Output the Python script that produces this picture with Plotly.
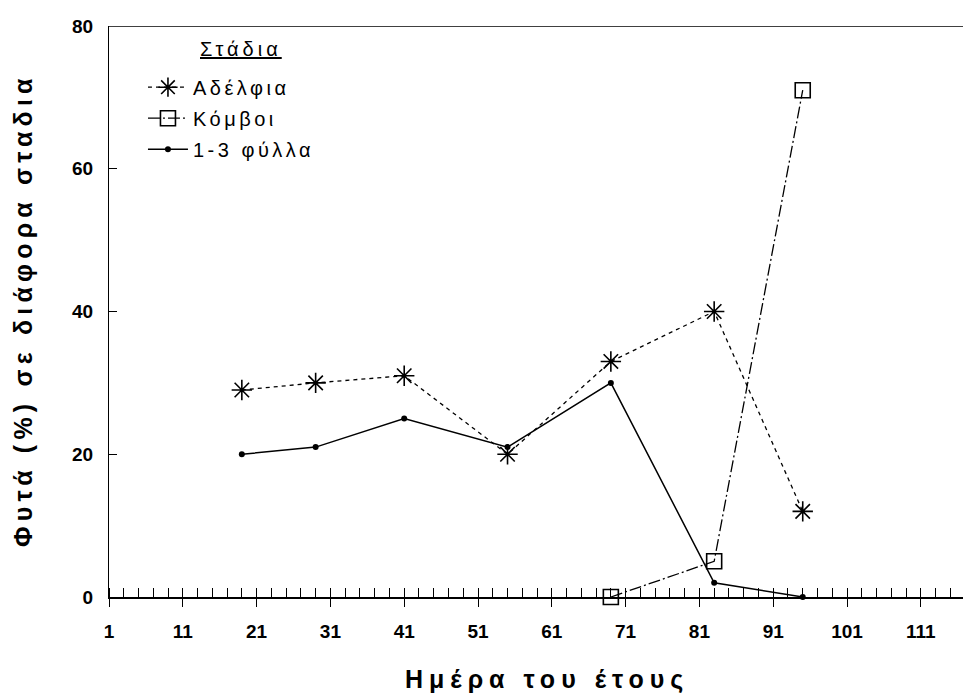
import plotly.graph_objects as go

# Data
days_adelfia = [19, 29, 41, 55, 69, 83, 95]
adelfia = [29, 30, 31, 20, 33, 40, 12]

days_komvoi = [69, 83, 95]
komvoi = [0, 5, 71]

days_fylla = [19, 29, 41, 55, 69, 83, 95]
fylla = [20, 21, 25, 21, 30, 2, 0]

names = ["Αδέλφια", "Κόμβοι", "1-3 φύλλα"]
x_ticks = [1, 11, 21, 31, 41, 51, 61, 71, 81, 91, 101, 111]
y_ticks = [0, 20, 40, 60, 80]

x_title = "Ημέρα του έτους"
y_title = "Φυτά (%) σε διάφορα σταδια"
legend_title = "Στάδια"

FONT = "Liberation Sans"
X_RANGE = [1, 117.8]


def spaced(t, px):
    return '<span style="letter-spacing:%spx">%s</span>' % (px, t)


fig = go.Figure()
fig.add_trace(go.Scatter(
    x=days_adelfia, y=adelfia, name=spaced(names[0], 3.5), mode="lines+markers",
    line=dict(color="black", width=1.3, dash="4px,4px"),
    marker=dict(symbol="asterisk-open", size=17, color="black",
                line=dict(color="black", width=1.6)),
    cliponaxis=False, legendgroup="a"))
fig.add_trace(go.Scatter(
    x=days_komvoi, y=komvoi, name=spaced(names[1], 3.5), mode="lines+markers",
    line=dict(color="black", width=1.3, dash="12px,3px,2px,3px"),
    marker=dict(symbol="square-open", size=15, color="black",
                line=dict(color="black", width=1.6)),
    cliponaxis=False, legendgroup="b"))
fig.add_trace(go.Scatter(
    x=days_fylla, y=fylla, name=spaced(names[2], 3.5), mode="lines+markers",
    line=dict(color="black", width=1.5),
    marker=dict(symbol="circle", size=6, color="black"),
    cliponaxis=False, legendgroup="c"))

fig.update_layout(
    width=971, height=698,
    margin=dict(l=101, r=8, t=12, b=109),
    paper_bgcolor="white", plot_bgcolor="white",
    font=dict(family=FONT, color="black"),
    showlegend=True,
    legend=dict(
        x=0.0394, y=0.927, xanchor="left", yanchor="top",
        bgcolor="rgba(0,0,0,0)", tracegroupgap=2,
        font=dict(family=FONT, size=20, color="black"),
        itemwidth=40,
    ),
    xaxis=dict(
        range=X_RANGE, tickmode="array", tickvals=x_ticks,
        ticktext=[str(v) for v in x_ticks],
        showgrid=False, zeroline=False,
        showline=True, linecolor="black", linewidth=1.5,
        ticks="outside", ticklen=8, tickwidth=1.3, tickcolor="black",
        ticklabelstandoff=8,
        tickfont=dict(family=FONT, size=19, color="black", weight="bold"),
        minor=dict(dtick=2, tick0=1, ticks="inside", ticklen=9,
                   tickwidth=1, tickcolor="black", showgrid=False),
    ),
    xaxis2=dict(
        overlaying="x", matches="x", range=X_RANGE, side="bottom",
        tickmode="array", tickvals=x_ticks, showticklabels=False,
        showgrid=False, zeroline=False, showline=False,
        ticks="inside", ticklen=9, tickwidth=1.3, tickcolor="black",
    ),
    yaxis=dict(
        range=[0, 80], tickmode="array", tickvals=y_ticks,
        ticktext=[str(v) for v in y_ticks],
        showgrid=False, zeroline=False,
        showline=True, linecolor="black", linewidth=1.3,
        ticks="inside", ticklen=8, tickwidth=1.3, tickcolor="black",
        ticklabelstandoff=11,
        tickfont=dict(family=FONT, size=19, color="black", weight="bold"),
    ),
)

# top frame line
fig.add_shape(type="line", xref="paper", yref="y", x0=0, x1=1, y0=80, y1=80,
              line=dict(color="black", width=1.5))

# legend heading (underlined)
fig.add_annotation(
    text='<span style="text-decoration:underline;letter-spacing:4px">' + legend_title + '</span>',
    xref="paper", yref="paper", x=0.1032, y=0.960,
    xanchor="left", yanchor="middle", showarrow=False,
    font=dict(family=FONT, size=20, color="black"))

fig.add_annotation(
    text=spaced(x_title, 6.0),
    xref="paper", yref="paper", x=0.508, y=-0.1438,
    xanchor="center", yanchor="middle", showarrow=False,
    font=dict(family=FONT, size=25, color="black", weight="bold"))
fig.add_annotation(
    text=spaced(y_title, 5.2),
    xref="paper", yref="paper", x=-0.0998, y=0.5026,
    xanchor="center", yanchor="middle", showarrow=False, textangle=-90,
    font=dict(family=FONT, size=25, color="black", weight="bold"))

fig.write_html("out.html")
